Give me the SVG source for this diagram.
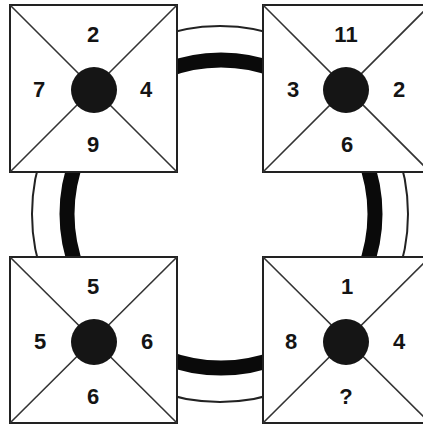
<svg xmlns="http://www.w3.org/2000/svg" width="423" height="425" viewBox="0 0 423 425">
<style>
.sq{fill:#fff;stroke:#222;stroke-width:2}
.dg{stroke:#333;stroke-width:1.6}
.dot{fill:#151515}
.n{font-family:"Liberation Sans",Arial,sans-serif;font-weight:bold;font-size:22px;fill:#141414;text-anchor:middle}
</style>
<rect width="423" height="425" fill="#fff"/>
<g id="connectors">
<circle cx="220" cy="214" r="188" fill="none" stroke="#222" stroke-width="2"/>
<circle cx="221" cy="214" r="154" fill="none" stroke="#0a0a0a" stroke-width="15"/>
</g>
<g id="tl">
<rect class="sq" x="10" y="5" width="167" height="167"/>
<line class="dg" x1="10" y1="5" x2="177" y2="172"/>
<line class="dg" x1="177" y1="5" x2="10" y2="172"/>
<circle class="dot" cx="94" cy="90" r="23"/>
<text class="n" x="93" y="42">2</text>
<text class="n" x="39" y="97">7</text>
<text class="n" x="146" y="97">4</text>
<text class="n" x="93" y="152">9</text>
</g>
<g id="tr">
<rect class="sq" x="263" y="5" width="167" height="167"/>
<line class="dg" x1="263" y1="5" x2="430" y2="172"/>
<line class="dg" x1="430" y1="5" x2="263" y2="172"/>
<circle class="dot" cx="346" cy="90" r="23"/>
<text class="n" x="346" y="42">11</text>
<text class="n" x="293" y="97">3</text>
<text class="n" x="399" y="97">2</text>
<text class="n" x="347" y="152">6</text>
</g>
<g id="bl">
<rect class="sq" x="10" y="257" width="167" height="166"/>
<line class="dg" x1="10" y1="257" x2="177" y2="423"/>
<line class="dg" x1="177" y1="257" x2="10" y2="423"/>
<circle class="dot" cx="94" cy="342" r="23"/>
<text class="n" x="93" y="294">5</text>
<text class="n" x="40" y="349">5</text>
<text class="n" x="147" y="349">6</text>
<text class="n" x="93" y="404">6</text>
</g>
<g id="br">
<rect class="sq" x="263" y="257" width="167" height="166"/>
<line class="dg" x1="263" y1="257" x2="430" y2="423"/>
<line class="dg" x1="430" y1="257" x2="263" y2="423"/>
<circle class="dot" cx="346" cy="342" r="23"/>
<text class="n" x="347" y="294">1</text>
<text class="n" x="291" y="349">8</text>
<text class="n" x="399" y="349">4</text>
<text class="n" x="346" y="404">?</text>
</g>
</svg>
